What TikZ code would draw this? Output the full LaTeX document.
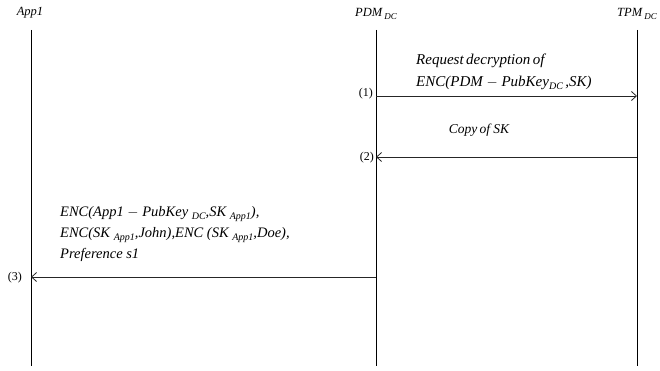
\documentclass[tikz,border=0pt]{standalone}
\usepackage{fontspec}
\setmainfont{Liberation Serif}
\usetikzlibrary{arrows.meta}
\newcommand\lowsub[1]{\raisebox{-0.45ex}{\fontsize{10}{10}\selectfont #1}}
\newcommand\hdsub[1]{\raisebox{-0.45ex}{\fontsize{9}{9}\selectfont #1}}
\tikzset{
  lifeline/.style={draw=black, line width=0.8pt},
  msg/.style={draw=black!85, line width=0.8pt, -{Straight Barb[length=5pt,width=9pt]}},
  actor/.style={inner sep=0pt, font=\fontsize{12.5}{14}\selectfont\itshape},
  msgtext/.style={inner sep=0pt, align=left, anchor=west, font=\fontsize{14.5}{21}\selectfont\itshape},
  step label/.style={inner sep=0pt, font=\fontsize{12}{13}\selectfont}
}
\begin{document}
\begin{tikzpicture}[x=1pt,y=1pt]
\useasboundingbox (0,0) rectangle (660,-371);
% participants
\node[actor] (app) at (30,-13) {App1};
\node[actor] (pdm) at (376,-14) {PDM\,\hdsub{DC}};
\node[actor] (tpm) at (637,-14) {TPM\,\hdsub{DC}};
% lifelines
\coordinate (appTop) at (31,-30);  \coordinate (appBot) at (31,-366);
\coordinate (pdmTop) at (376,-30); \coordinate (pdmBot) at (376,-366);
\coordinate (tpmTop) at (637,-30); \coordinate (tpmBot) at (637,-366);
\draw[lifeline] (appTop) -- (appBot);
\draw[lifeline] (pdmTop) -- (pdmBot);
\draw[lifeline] (tpmTop) -- (tpmBot);
% message anchors on the lifelines
\coordinate (p1) at (376,-96);  \coordinate (t1) at (637,-96);
\coordinate (t2) at (637,-157); \coordinate (p2) at (376,-157);
\coordinate (p3) at (376,-277); \coordinate (a3) at (31,-277);
% (1) request
\draw[msg] (p1) -- (t1);
\node[step label, anchor=east] (l1) at (373,-94) {(1)};
\node[msgtext, font=\fontsize{15}{21.5}\selectfont\itshape] (m1) at (416,-72) {Request\,decryption\,of\\ENC(PDM $-$ PubKey\lowsub{DC}\,,SK)};
% (2) reply
\draw[msg] (t2) -- (p2);
\node[step label, anchor=east] (l2) at (374,-158) {(2)};
\node[msgtext, anchor=center, font=\fontsize{13.5}{16}\selectfont\itshape] (m2) at (479,-130) {Copy\,of SK};
% (3) result to App1
\draw[msg] (p3) -- (a3);
\node[step label, anchor=east] (l3) at (22,-278) {(3)};
\node[msgtext] (m3) at (60,-234) {ENC(App1 $-$ PubKey \lowsub{DC},SK \lowsub{App1}),\\ENC(SK \lowsub{App1},John),ENC (SK \lowsub{App1},Doe),\\Preference s1};
\end{tikzpicture}
\end{document}
